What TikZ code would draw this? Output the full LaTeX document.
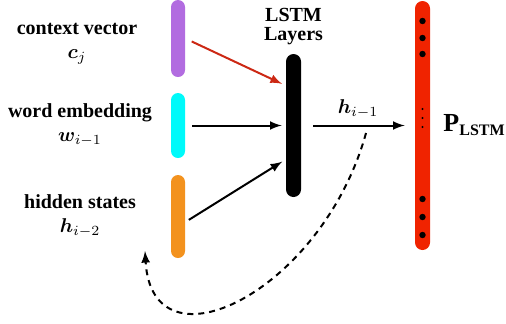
\documentclass[tikz,border=0pt]{standalone}
\usepackage{fontspec}
\setmainfont{Liberation Serif}
\usepackage{bm}
\usetikzlibrary{arrows}
\usetikzlibrary{positioning}

\definecolor{ctxpurple}{RGB}{178,108,224}
\definecolor{embcyan}{RGB}{0,250,250}
\definecolor{hidorange}{RGB}{243,146,30}
\definecolor{outred}{RGB}{240,35,0}
\definecolor{arrowred}{RGB}{204,40,20}

\begin{document}
\begin{tikzpicture}[x=0.5pt,y=-0.5pt,
  bar/.style 2 args={
    rectangle,
    rounded corners=3.5pt,
    inner sep=0pt,
    minimum width=7pt,
    minimum height=#2,
    fill=#1},
  link/.style={-latex, line width=1pt, shorten <=3.5pt, shorten >=2pt},
  lbl/.style={align=center, font=\bfseries}]
  \useasboundingbox (0,0) rectangle (506,323);
  % draw input bars and their labels
  \node[bar={ctxpurple}{38.5pt}] (ctx) at (178,38.5) {};
  \node[bar={embcyan}{32.5pt}] (emb) at (178,125.5) {};
  \node[bar={hidorange}{41.5pt}] (hid) at (178,216.5) {};
  \node[lbl] (ctxlbl) at (77,44) {context vector\\$\bm{c}_j$};
  \node[lbl] (emblbl) at (80,125) {word embedding\\$\bm{w}_{i-1}$};
  \node[lbl] (hidlbl) at (80,216) {hidden states\\$\bm{h}_{i-2}$};
  % draw LSTM layers
  \node[bar={black}{71.5pt}, minimum width=7.5pt, rounded corners=3.75pt] (lstm) at (293.5,125.5) {};
  \node[lbl, above=1pt of lstm] (lstmlbl) {LSTM\\[-2.5pt]Layers};
  % draw output bar
  \node[bar={outred}{124.5pt}, minimum width=7.5pt, rounded corners=3.75pt] (out) at (422.5,125.5) {};
  \node[right=3pt of out] (outlbl) {\fontsize{13}{15}\selectfont\textbf{P}\raisebox{-2pt}{\fontsize{8}{9}\selectfont\textbf{LSTM}}};
  \foreach \y in {21,38,54,199,217,235}
    \fill (422.5,\y) circle (1.6pt);
  \foreach \y in {109,118,127}
    \fill (422.5,\y) circle (0.6pt);
  % draw input links
  \draw[link, color=arrowred] (ctx.east) -- ([yshift=20pt]lstm.west);
  \draw[link] (emb.east) -- (lstm.west);
  \draw[link, shorten <=2pt] ([yshift=-2.75pt]hid.east) -- ([yshift=-17pt]lstm.west);
  % draw output link
  \draw[link, shorten <=6pt, shorten >=5pt] (lstm.east) -- node[above] (hlbl) {$\bm{h}_{i-1}$} (out.west);
  % draw recurrent link
  \coordinate (fbstart) at (366,133);
  \coordinate (fbend) at (145,251);
  \draw[-latex, line width=1pt, dash pattern=on 3pt off 2.5pt] (fbstart) .. controls (322,292) and (152,375) .. (fbend);
\end{tikzpicture}
\end{document}
